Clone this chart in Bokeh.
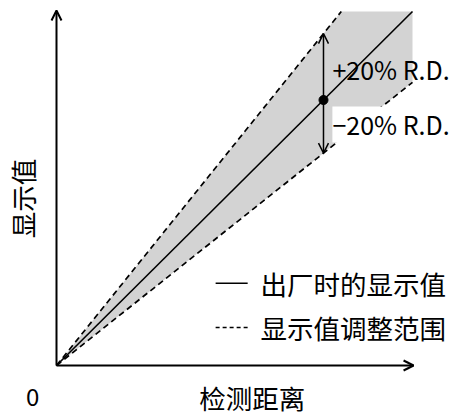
from bokeh.plotting import figure
from bokeh.models import Range1d, Arrow, OpenHead, Label
from bokeh.core.properties import value
from bokeh.embed import file_html
from bokeh.resources import INLINE

# ---- data ----
axis_max = 10.03
x_max = 10.0
y_max = 10.0
slope_factory = 1.0      # factory display value
slope_upper = 1.25       # +20% R.D.
slope_lower = 0.8        # -20% R.D.
mark_x = 7.5
legend_labels = ["出厂时的显示值", "显示值调整范围"]
x_title = "检测距离"
y_title = "显示值"
upper_label = "+20% R.D."
lower_label = "−20% R.D."

FONT_NAME = "Noto Sans CJK SC"
FONT = value(FONT_NAME)

p = figure(width=453, height=417, output_backend="svg", toolbar_location=None,
           x_range=Range1d(-1.573, 11.152), y_range=Range1d(-1.469, 10.311),
           min_border=0, x_axis_type=None, y_axis_type=None)
p.outline_line_color = None
p.xgrid.visible = False
p.ygrid.visible = False
p.background_fill_color = "white"
p.border_fill_color = "white"

# gray band between the dashed lines, clipped at x_max / y_max
xu_top = y_max / slope_upper
yl_right = x_max * slope_lower
p.patch([0, xu_top, x_max, x_max], [0, y_max, y_max, yl_right],
        fill_color="#d3d3d3", line_color=None)

# dashed boundaries
p.line([0, xu_top], [0, y_max], line_color="black", line_width=1.7, line_dash="6 4")
p.line([0, x_max], [0, yl_right], line_color="black", line_width=1.7, line_dash="6 4")
# solid factory line
p.line([0, min(x_max, y_max / slope_factory)], [0, min(y_max, x_max * slope_factory)],
       line_color="black", line_width=1.6)

# axes with arrows
p.add_layout(Arrow(x_start=0, y_start=0, x_end=0, y_end=axis_max,
                   line_width=2, end=OpenHead(size=10, line_width=2)))
p.add_layout(Arrow(x_start=0, y_start=0, x_end=axis_max, y_end=0,
                   line_width=2, end=OpenHead(size=10, line_width=2)))

# double arrow at mark_x
p.add_layout(Arrow(x_start=mark_x, y_start=mark_x * slope_lower,
                   x_end=mark_x, y_end=mark_x * slope_upper,
                   line_width=1.5,
                   start=OpenHead(size=10, line_width=1.5),
                   end=OpenHead(size=10, line_width=1.5)))
p.scatter([mark_x], [mark_x * slope_factory], size=9, color="black")

# +/- labels
p.text([7.75], [8.39], text=[upper_label], text_font=FONT, text_font_size="25px",
       text_align="left", text_baseline="middle", text_color="black")
p.add_layout(Label(x=7.75, y=6.81, text=lower_label, text_font=FONT_NAME,
                   text_font_size="25px", text_align="left", text_baseline="middle",
                   text_color="black", background_fill_color="white", padding=0))

# legend
p.line([4.47, 5.37], [2.32, 2.32], line_color="black", line_width=1.5)
p.line([4.47, 5.40], [1.07, 1.07], line_color="black", line_width=1.5, line_dash="4 3")
p.text([5.73, 5.73], [2.32, 1.07], text=legend_labels, text_font=FONT,
       text_font_size="26.5px", text_align="left", text_baseline="middle", text_color="black")

# axis titles
p.text([5.5], [-0.90], text=[x_title], text_font=FONT, text_font_size="26.5px",
       text_align="center", text_baseline="middle", text_color="black")
p.text([-0.67], [-0.90], text=["0"], text_font=FONT, text_font_size="24px",
       text_align="center", text_baseline="middle", text_color="black")
p.text([-0.955], [4.72], text=[y_title], text_font=FONT, text_font_size="26.5px",
       text_align="center", text_baseline="middle", angle=1.5708, text_color="black")

open("out.html", "w").write(file_html(p, INLINE))
